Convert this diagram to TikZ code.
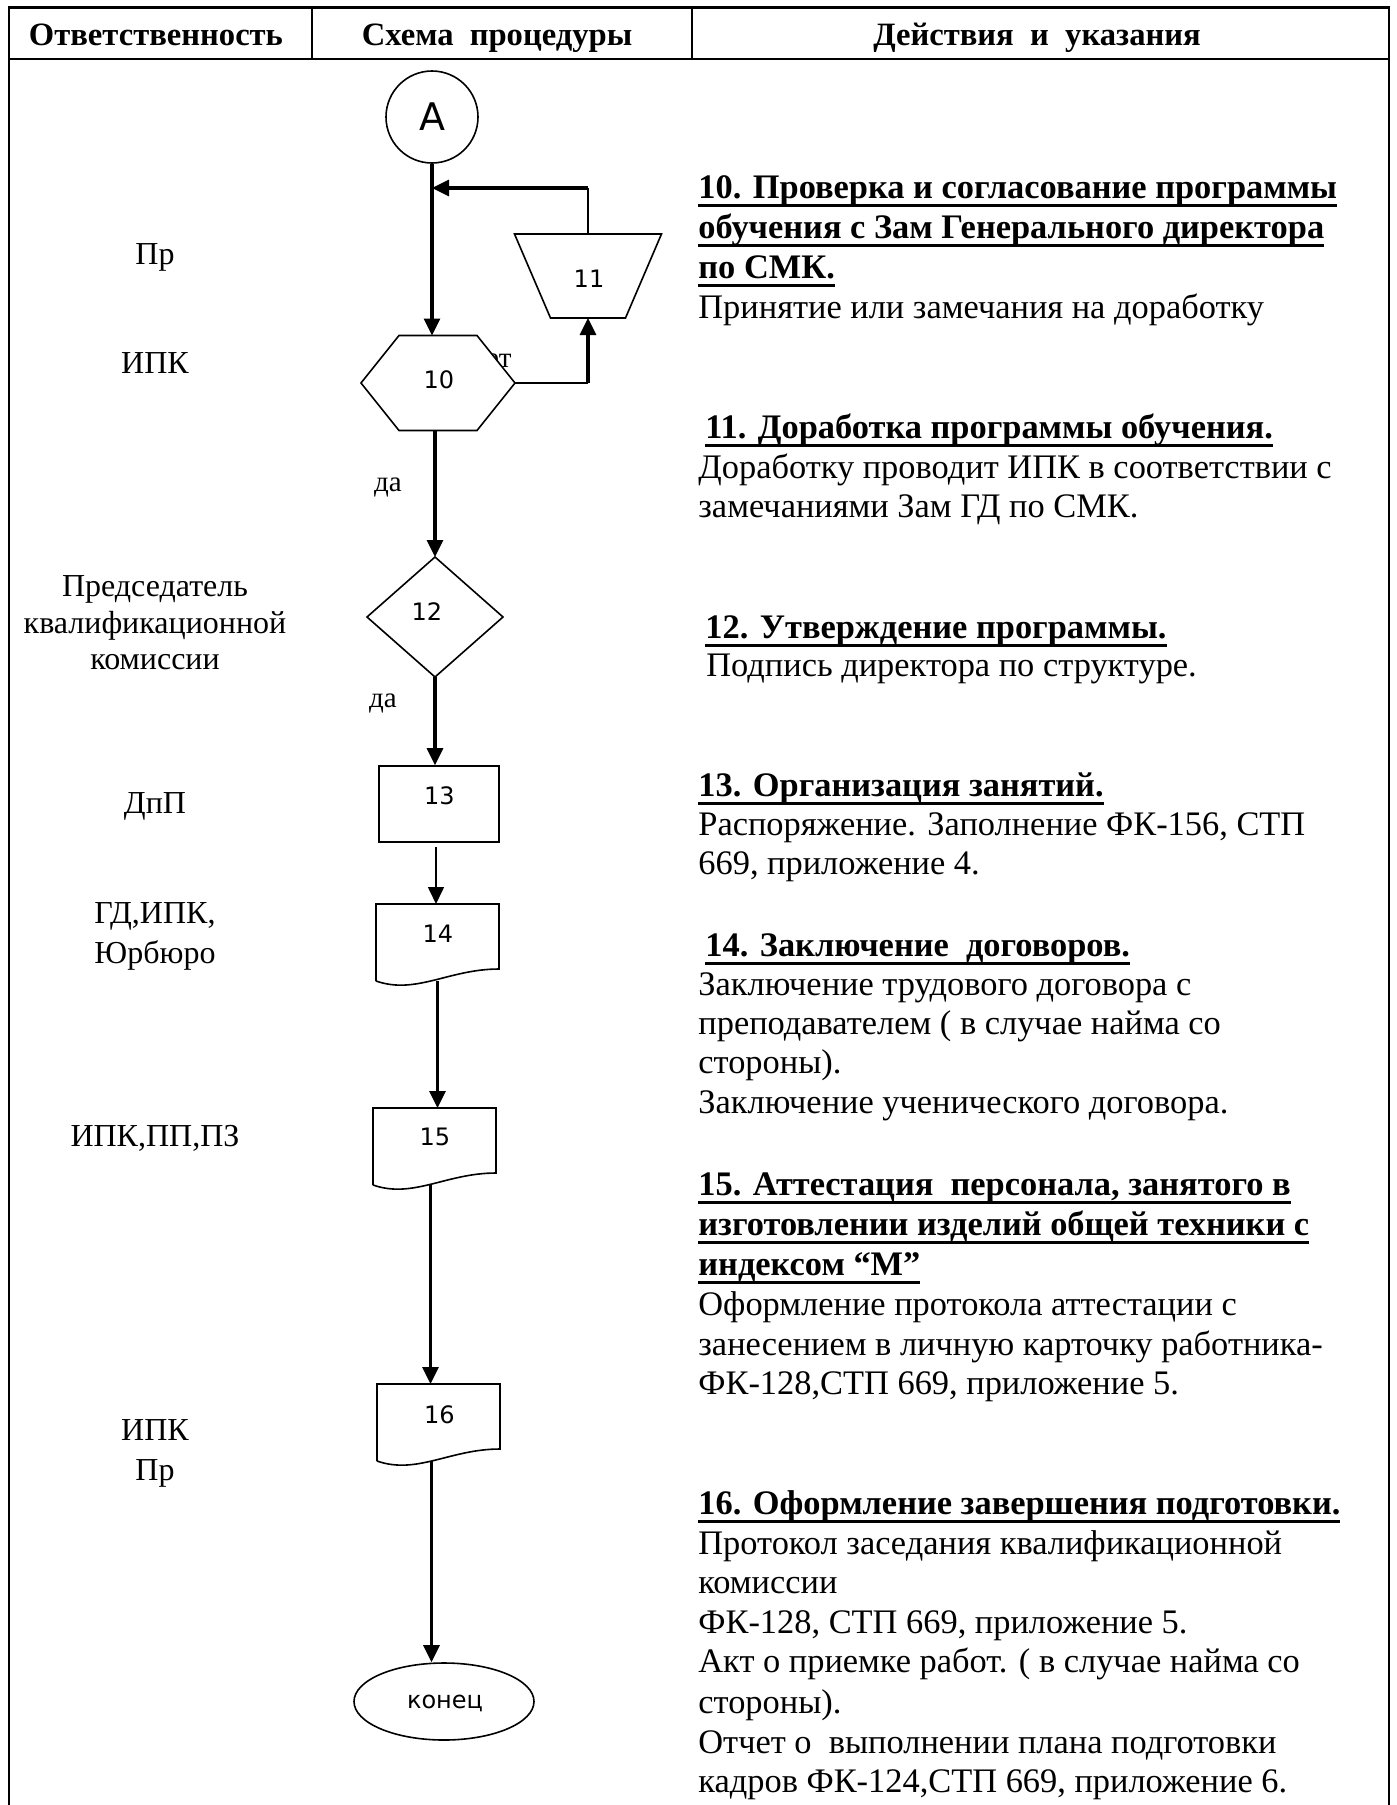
\documentclass[tikz,border=0pt]{standalone}
\usepackage{fontspec}
\setmainfont{Liberation Serif}
\newfontfamily\dejavu{DejaVu Sans}
\usetikzlibrary{calc,arrows.meta,shapes.geometric}
\newcommand{\ulx}[1]{\setbox0=\hbox{#1}\rlap{\rule[-4.4pt]{\wd0}{1.5pt}}\box0}
\tikzset{
  frameline/.style={line width=1pt},
  shp/.style={line width=0.8pt},
  thk/.style={line width=1.6pt},
  thn/.style={line width=0.8pt},
  tip/.style={-{Triangle[length=8.5pt,width=8pt]}},
  resp/.style={anchor=base, inner sep=0pt, font=\fontsize{16pt}{18pt}\selectfont},
  hdr/.style={anchor=base, inner sep=0pt, font=\bfseries\fontsize{16.3pt}{18pt}\selectfont},
  act/.style={anchor=base west, inner sep=0pt, font=\fontsize{17.2pt}{20pt}\selectfont},
  acth/.style={act, font=\bfseries\fontsize{17.2pt}{20pt}\selectfont},
  num/.style={inner sep=0pt, font=\dejavu\fontsize{12pt}{14pt}\selectfont},
  yes/.style={inner sep=0pt, font=\fontsize{14.5pt}{16pt}\selectfont},
  ghost/.style={inner sep=0pt, outer sep=0pt, draw=none},
}
\begin{document}
\begin{tikzpicture}[x=0.5pt,y=-0.5pt]
\useasboundingbox (0,0) rectangle (1397,1805);
\fill[white] (0,0) rectangle (1397,1805);

% frame and header
\draw[frameline] (9,1805) -- (9,7) -- (1389,7) -- (1389,1805);
\draw[line width=1.5pt] (9,7) -- (1389,7);
\draw[frameline] (9,59) -- (1389,59);
\draw[frameline] (312,7) -- (312,59);
\draw[frameline] (692,7) -- (692,59);
\node[hdr] (h1) at (156,45) {Ответственность};
\node[hdr] (h2) at (497,45) {Схема\ \ процедуры};
\node[hdr] (h3) at (1037,45) {Действия\ \ и\ \ указания};

% responsibility column
\node[resp] (r1) at (155,264) {Пр};
\node[resp] (r2) at (155,373) {ИПК};
\node[resp] (r3a) at (155,596) {Председатель};
\node[resp] (r3b) at (155,633) {квалификационной};
\node[resp] (r3c) at (155,669) {комиссии};
\node[resp] (r4) at (155,813) {ДпП};
\node[resp] (r5a) at (155,923) {ГД,ИПК,};
\node[resp] (r5b) at (155,963) {Юрбюро};
\node[resp] (r6) at (155,1146) {ИПК,ПП,ПЗ};
\node[resp] (r7a) at (155,1440) {ИПК};
\node[resp] (r7b) at (155,1480) {Пр};

% flowchart shapes
\node[circle, draw, shp, minimum size=46pt, inner sep=0pt,
      font=\dejavu\fontsize{19pt}{20pt}\selectfont] (A) at (432,117) {A};

\node[yes, anchor=base east] (no10) at (512,367) {нет};
\node[ghost, minimum width=77pt, minimum height=47.5pt] (h10) at (438,383) {};
\draw[shp, fill=white] ($(h10.north west)+(38,0)$) -- ($(h10.north east)+(-38,0)$) -- (h10.east)
  -- ($(h10.south east)+(-38,0)$) -- ($(h10.south west)+(38,0)$) -- (h10.west) -- cycle;
\node[num] (l10) at (439,380) {10};

\node[ghost, minimum width=73.5pt, minimum height=42pt] (t11) at (588,276) {};
\draw[shp] (t11.north west) -- (t11.north east) -- ($(t11.south east)+(-36,0)$)
  -- ($(t11.south west)+(36,0)$) -- cycle;
\node[num] (l11) at (589,279) {11};

\node[ghost, minimum width=68pt, minimum height=60pt] (d12) at (435,617) {};
\draw[shp] (d12.north) -- (d12.east) -- (d12.south) -- (d12.west) -- cycle;
\node[num] (l12) at (427,612) {12};

\node[draw, shp, minimum width=60pt, minimum height=38pt, inner sep=0pt] (r13) at (439,804) {};
\node[num] (l13) at (439.5,796) {13};

\node[ghost, minimum width=61.5pt, minimum height=38.5pt] (d14) at (437.5,942.5) {};
\node[ghost, minimum width=61.5pt, minimum height=38.5pt] (d15) at (434.5,1146.5) {};
\node[ghost, minimum width=61.5pt, minimum height=38.5pt] (d16) at (438.5,1422.5) {};
\foreach \d in {d14,d15,d16}{
  \draw[shp] (\d.south west) -- (\d.north west) -- (\d.north east) -- ($(\d.south east)+(0,-12)$)
    .. controls ($(\d.south east)+(-50,-12)$) and ($(\d.south west)+(40,14)$) .. (\d.south west);
}
\node[num] (l14) at (438,934) {14};
\node[num] (l15) at (435,1137) {15};
\node[num] (l16) at (439.5,1415) {16};

\node[ellipse, draw, shp, minimum width=90pt, minimum height=38.5pt, inner sep=0pt] (end) at (444,1701.5) {};
\node[num] (lend) at (445,1703) {конец};

% connectors
\coordinate (loopj) at (432,188);
\draw[thk, tip] (A.south) -- (A.south |- h10.north);
\draw[thn] (t11.north) -- (t11.north |- loopj);
\draw[thk, tip] (t11.north |- loopj) -- (loopj);
\draw[thn] (h10.east) -- (h10.east -| t11.south);
\draw[thk, tip] (h10.east -| t11.south) -- (t11.south);
\draw[thk, tip] (d12.north |- h10.south) -- (d12.north);
\draw[thk, tip] (d12.south) -- (d12.south |- r13.north);
\coordinate (s13) at ($(r13.south)+(-3,4)$);
\draw[thn, tip] (s13) -- (s13 |- d14.north);
\draw[thk, tip] (d14.south) -- (d14.south |- d15.north);
\coordinate (s15) at ($(d15.south)+(-4,0)$);
\draw[thk, tip] (s15) -- (s15 |- d16.north);
\coordinate (s16) at ($(d16.south)+(-7,0)$);
\draw[thk, tip] (s16) -- (s16 |- end.north);

\node[yes] (yes1) at (388,487) {да};
\node[yes] (yes2) at (383,703) {да};

% actions column
\node[acth] (a10a) at (698,198) {\ulx{10. Проверка и согласование программы}};
\node[acth] (a10b) at (698,238) {\ulx{обучения с Зам Генерального директора}};
\node[acth] (a10c) at (698,278) {\ulx{по СМК.}};
\node[act]  (a10d) at (698,318) {Принятие или замечания на доработку};

\node[acth] (a11a) at (705,438) {\ulx{11. Доработка программы обучения.}};
\node[act]  (a11b) at (698,478) {Доработку проводит ИПК в соответствии с};
\node[act]  (a11c) at (698,517) {замечаниями Зам ГД по СМК.};

\node[acth] (a12a) at (705,638) {\ulx{12. Утверждение программы.}};
\node[act]  (a12b) at (706,676) {Подпись директора по структуре.};

\node[acth] (a13a) at (698,796) {\ulx{13. Организация занятий.}};
\node[act]  (a13b) at (698,835) {Распоряжение. Заполнение ФК-156, СТП};
\node[act]  (a13c) at (698,874) {669, приложение 4.};

\node[acth] (a14a) at (705,956) {\ulx{14. Заключение\ \ договоров.}};
\node[act]  (a14b) at (698,995) {Заключение трудового договора с};
\node[act]  (a14c) at (698,1034) {преподавателем ( в случае найма со};
\node[act]  (a14d) at (698,1073) {стороны).};
\node[act]  (a14e) at (698,1113) {Заключение ученического договора.};

\node[acth] (a15a) at (698,1195) {\ulx{15. Аттестация\ \ персонала, занятого в}};
\node[acth] (a15b) at (698,1235) {\ulx{изготовлении изделий общей техники с}};
\node[acth] (a15c) at (698,1275) {\ulx{индексом “М”}};
\node[act]  (a15d) at (698,1315) {Оформление протокола аттестации с};
\node[act]  (a15e) at (698,1355) {занесением в личную карточку работника-};
\node[act]  (a15f) at (698,1394) {ФК-128,СТП 669, приложение 5.};

\node[acth] (a16a) at (698,1514) {\ulx{16. Оформление завершения подготовки.}};
\node[act]  (a16b) at (698,1554) {Протокол заседания квалификационной};
\node[act]  (a16c) at (698,1593) {комиссии};
\node[act]  (a16d) at (698,1633) {ФК-128, СТП 669, приложение 5.};
\node[act]  (a16e) at (698,1672) {Акт о приемке работ. ( в случае найма со};
\node[act]  (a16f) at (698,1713) {стороны).};
\node[act]  (a16g) at (698,1753) {Отчет о\ \ выполнении плана подготовки};
\node[act]  (a16h) at (698,1792) {кадров ФК-124,СТП 669, приложение 6.};
\end{tikzpicture}
\end{document}
